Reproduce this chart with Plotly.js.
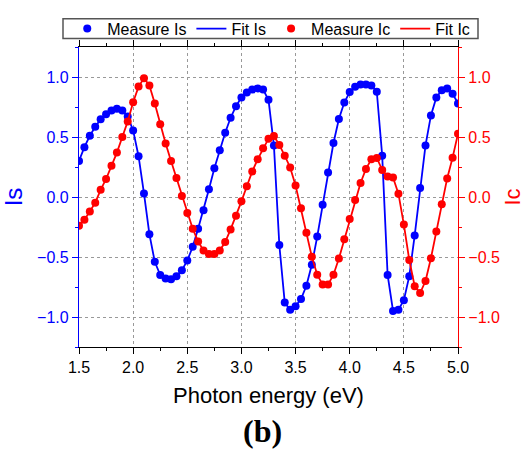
<!DOCTYPE html>
<html>
<head>
<meta charset="utf-8">
<script src="https://cdn.plot.ly/plotly-3.0.1.min.js"></script>
<style>html,body{margin:0;padding:0;background:#fff;}#chart{width:525px;height:461px;}</style>
</head>
<body>
<div id="chart"></div>
<script>
// Photon energy (eV)
const energy = [1.50,1.55,1.60,1.65,1.70,1.75,1.80,1.85,1.90,1.95,2.00,
  2.05,2.10,2.15,2.20,2.25,2.30,2.35,2.40,2.45,2.50,
  2.55,2.60,2.65,2.70,2.75,2.80,2.85,2.90,2.95,3.00,
  3.05,3.10,3.15,3.20,3.25,3.30,3.35,3.40,3.45,3.50,
  3.55,3.60,3.65,3.70,3.75,3.80,3.85,3.90,3.95,4.00,
  4.05,4.10,4.15,4.20,4.25,4.30,4.35,4.40,4.45,4.50,
  4.55,4.60,4.65,4.70,4.75,4.80,4.85,4.90,4.95,5.00];

// Is (left axis)
const isValues = [0.30,0.415,0.51,0.585,0.647,0.69,0.72,0.735,0.72,0.67,0.555,
  0.34,0.03,-0.31,-0.54,-0.65,-0.68,-0.686,-0.66,-0.61,-0.53,
  -0.415,-0.265,-0.11,0.065,0.24,0.39,0.535,0.66,0.757,0.83,
  0.87,0.895,0.905,0.895,0.81,0.43,-0.40,-0.88,-0.94,-0.91,
  -0.85,-0.74,-0.565,-0.33,-0.065,0.205,0.45,0.65,0.787,0.874,
  0.918,0.937,0.937,0.93,0.877,0.344,-0.65,-0.95,-0.94,-0.86,
  -0.66,-0.32,0.076,0.43,0.68,0.83,0.89,0.905,0.86,0.78];

// Ic (right axis)
const icValues = [-0.24,-0.19,-0.12,-0.047,0.06,0.15,0.26,0.37,0.50,0.63,0.79,
  0.92,0.99,0.93,0.78,0.607,0.445,0.30,0.158,0.008,-0.134,
  -0.265,-0.37,-0.446,-0.475,-0.475,-0.446,-0.375,-0.27,-0.156,-0.036,
  0.09,0.213,0.314,0.407,0.486,0.508,0.434,0.344,0.246,0.096,
  -0.093,-0.298,-0.497,-0.648,-0.73,-0.73,-0.648,-0.513,-0.352,-0.183,
  -0.025,0.117,0.234,0.314,0.325,0.226,0.17,0.162,0.028,-0.23,
  -0.525,-0.743,-0.80,-0.70,-0.51,-0.287,-0.06,0.155,0.328,0.527];

const seriesNames = ["Measure Is","Fit Is","Measure Ic","Fit Ic"];
const xTitle = "Photon energy (eV)";
const yTitle = "Is";
const y2Title = "Ic";
const panelLabel = "(b)";

const BLUE = "#0000ff", RED = "#ff0000";
const FONT = "Liberation Sans, Arial, sans-serif";

const traces = [
  {x: energy, y: isValues, name: seriesNames[0], type: "scatter", mode: "markers",
   marker: {color: BLUE, size: 8}, yaxis: "y"},
  {x: energy, y: isValues, name: seriesNames[1], type: "scatter", mode: "lines",
   line: {color: BLUE, width: 1.8}, yaxis: "y"},
  {x: energy, y: icValues, name: seriesNames[2], type: "scatter", mode: "markers",
   marker: {color: RED, size: 8}, yaxis: "y2"},
  {x: energy, y: icValues, name: seriesNames[3], type: "scatter", mode: "lines",
   line: {color: RED, width: 1.8}, yaxis: "y2"}
];

const minorCommon = {ticklen: 3, showgrid: false};

const layout = {
  width: 525, height: 461,
  margin: {l: 79, r: 67, t: 42, b: 114, pad: 0},
  paper_bgcolor: "#fff", plot_bgcolor: "#fff",
  font: {family: FONT, size: 16, color: "#000"},
  showlegend: true,
  legend: {orientation: "h", x: -0.031, xanchor: "left", y: 1.061, yanchor: "middle",
    bgcolor: "rgba(0,0,0,0)", borderwidth: 0, font: {family: FONT, size: 16, color: "#000"},
    traceorder: "normal"},
  xaxis: {range: [1.5, 5.0], tick0: 1.5, dtick: 0.5, tickformat: ".1f",
    showline: true, linecolor: "#000", linewidth: 1.3, mirror: "ticks",
    ticks: "outside", ticklen: 6, tickwidth: 1.2, tickcolor: "#000",
    tickfont: {family: FONT, size: 16, color: "#000"},
    showgrid: true, gridcolor: "#999", griddash: "dot", gridwidth: 1, zeroline: false,
    minor: Object.assign({dtick: 0.25, tickcolor: "#000"}, minorCommon),
    title: {text: xTitle, font: {family: FONT, size: 22, color: "#000"}, standoff: 12}},
  yaxis: {range: [-1.25, 1.25], tick0: 0, dtick: 0.5, tickformat: ".1f",
    showline: true, linecolor: BLUE, linewidth: 1.3,
    ticks: "outside", ticklen: 6, tickwidth: 1.2, tickcolor: BLUE,
    tickfont: {family: FONT, size: 16, color: BLUE},
    showgrid: true, gridcolor: "#999", griddash: "dot", gridwidth: 1, zeroline: false,
    minor: Object.assign({dtick: 0.25, tickcolor: BLUE}, minorCommon),
    title: {text: yTitle, font: {family: FONT, size: 24, color: BLUE}, standoff: 12}},
  yaxis2: {range: [-1.25, 1.25], tick0: 0, dtick: 0.5, tickformat: ".1f",
    overlaying: "y", side: "right",
    showline: true, linecolor: RED, linewidth: 1.3,
    ticks: "outside", ticklen: 6, tickwidth: 1.2, tickcolor: RED,
    tickfont: {family: FONT, size: 16, color: RED},
    showgrid: false, zeroline: false,
    minor: Object.assign({dtick: 0.25, tickcolor: RED}, minorCommon),
    title: {text: y2Title, font: {family: FONT, size: 22, color: RED}, standoff: 8}},
  shapes: [
    {type: "rect", xref: "paper", yref: "paper",
     x0: (63 - 79) / 379, x1: (478 - 79) / 379,
     y0: (346.7 - 33) / 305, y1: (346.7 - 13) / 305,
     line: {color: "#555", width: 1.5}, fillcolor: "rgba(0,0,0,0)", layer: "above"}
  ],
  annotations: [
    {text: panelLabel, xref: "paper", yref: "paper", x: (262 - 79) / 379, y: (346.7 - 432) / 305,
     xanchor: "center", yanchor: "middle", showarrow: false,
     font: {family: "Liberation Serif, Times New Roman, serif", size: 32, color: "#000", weight: "bold"}}
  ]
};

Plotly.newPlot("chart", traces, layout, {displayModeBar: false, responsive: false});
</script>
</body>
</html>
